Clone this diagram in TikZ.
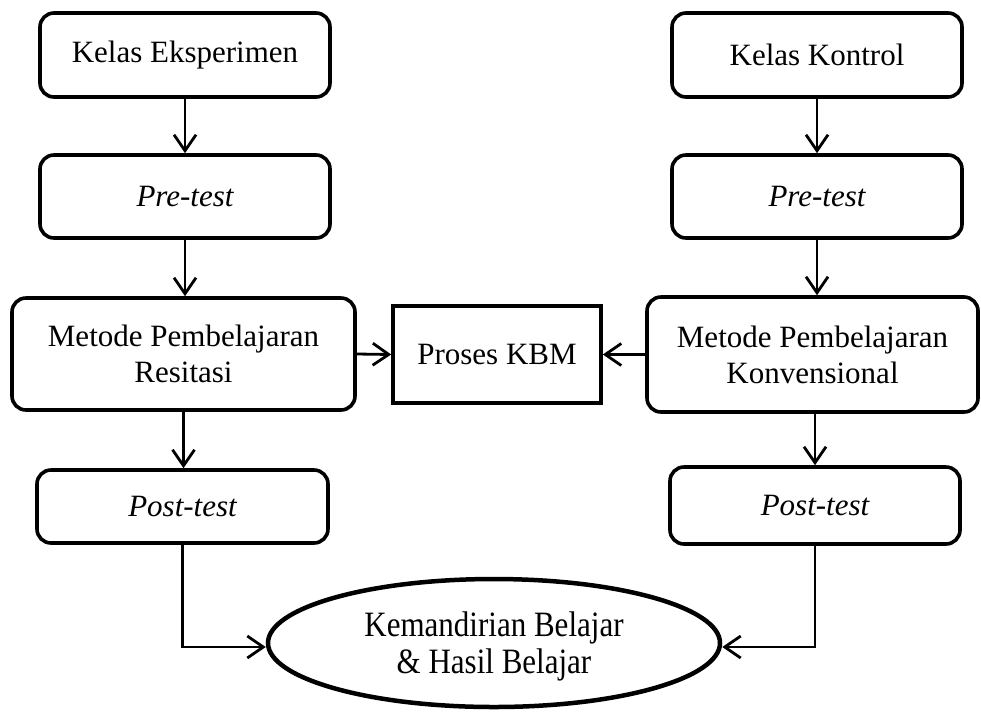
\documentclass[tikz,border=0pt]{standalone}
\usepackage{fontspec}
\setmainfont{Liberation Serif}
\usetikzlibrary{arrows.meta,shapes.geometric}
\tikzset{
  box/.style={draw, line width=3.6pt, rounded corners=14pt, inner sep=0pt, align=center,
    font=\fontsize{31}{36}\selectfont},
  sqbox/.style={draw, line width=3.6pt, inner sep=0pt, align=center,
    font=\fontsize{31}{36}\selectfont},
  ellbox/.style={draw, ellipse, line width=4.5pt, inner sep=0pt, align=center,
    font=\fontsize{31}{32}\selectfont},
  arr/.style={line width=2.8pt, -{Straight Barb[length=16pt,width=22pt,line width=2.8pt]}}
}
\begin{document}
\begin{tikzpicture}[x=1pt,y=-1pt]
\useasboundingbox (0,0) rectangle (981,713);
% left column
\node[box, minimum width=290pt, minimum height=84pt] (ke) at (185,55) {Kelas Eksperimen};
\node[box, minimum width=290pt, minimum height=83pt] (prel) at (185,196.5) {\itshape Pre-test};
\node[box, minimum width=343pt, minimum height=112pt] (metl) at (183.5,354) {Metode Pembelajaran\\Resitasi};
\node[box, minimum width=291pt, minimum height=73pt] (postl) at (182.5,506.5) {\itshape Post-test};
% middle
\node[sqbox, minimum width=208pt, minimum height=97pt] (kbm) at (497,354.5) {Proses KBM};
% right column
\node[box, minimum width=290pt, minimum height=84pt] (kk) at (817,55) {Kelas Kontrol};
\node[box, minimum width=290pt, minimum height=83pt] (prer) at (817,196.5) {\itshape Pre-test};
\node[box, minimum width=331pt, minimum height=115pt] (metr) at (812.5,354.5) {Metode Pembelajaran\\Konvensional};
\node[box, minimum width=290pt, minimum height=77pt] (postr) at (815,505.5) {\itshape Post-test};
% result
\node[ellbox, minimum width=452pt, minimum height=128pt] (ell) at (494,643)
  {\raisebox{-5pt}[\height][\depth]{\scalebox{1}[1.15]{\begin{tabular}{@{}c@{}}Kemandirian Belajar\\\& Hasil Belajar\end{tabular}}}};
% connectors
\draw[arr] (ke) -- (prel);
\draw[arr] (prel) -- (prel |- metl.north);
\draw[arr] (metl) -- (metl |- postl.north);
\draw[arr] (kk) -- (prer);
\draw[arr] (prer) -- (prer |- metr.north);
\draw[arr] (postr.north |- metr.south) -- (postr.north);
\draw[arr] (metl.east) -- (kbm.west);
\draw[arr] (metr.west) -- (kbm.east);
\draw[arr] (postl.south) |- ([yshift=-4pt]ell.west);
\draw[arr] (postr.south) |- ([yshift=-4pt]ell.east);
\end{tikzpicture}
\end{document}
